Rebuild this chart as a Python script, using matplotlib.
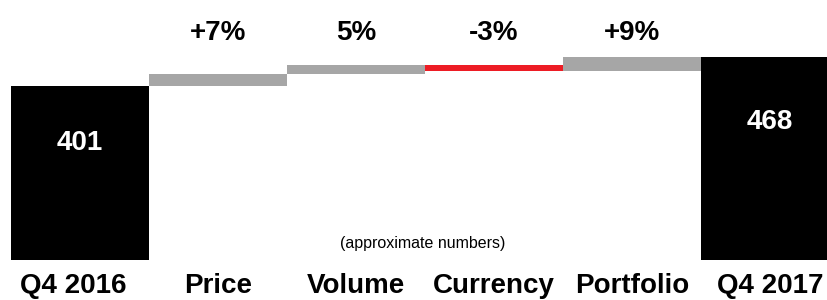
import matplotlib
matplotlib.use('Agg')
import matplotlib.pyplot as plt

categories = ['Q4 2016', 'Price', 'Volume', 'Currency', 'Portfolio', 'Q4 2017']
start_value = 401
end_value = 468
changes = [28, 20, -12, 31]
change_labels = ['+7%', '5%', '-3%', '+9%']

plt.rcParams['font.family'] = ['Liberation Sans', 'DejaVu Sans']

fig = plt.figure(figsize=(8.27, 3.0), dpi=100)
ax = fig.add_axes([0, 0.1333, 1, 0.8667])

gray = '#a6a6a6'
red = '#ed1c24'

# totals
ax.bar(0, start_value, width=1, color='black')
ax.bar(len(categories) - 1, end_value, width=1, color='black')

# floating steps
level = start_value
for i, ch in enumerate(changes):
    x = i + 1
    col = red if ch < 0 else gray
    ax.bar(x, abs(ch), bottom=min(level, level + ch), width=1, color=col)
    level += ch

for i, lab in enumerate(change_labels):
    ax.text(i + 1, 524, lab, ha='center', va='center', fontsize=20,
            fontweight='bold')

ax.text(0, start_value - 132, str(start_value), ha='center', va='center',
        color='white', fontsize=20, fontweight='bold')
ax.text(len(categories) - 1, end_value - 150, str(end_value), ha='center',
        va='center', color='white', fontsize=20, fontweight='bold')

ax.text(2.485, 39, '(approximate numbers)', ha='center', va='center',
        fontsize=11.5)

for i, c in enumerate(categories):
    dx = -0.05 if i == 0 else 0
    ax.text(i + dx, -60, c, ha='center', va='center', fontsize=20,
            fontweight='bold', clip_on=False)

ax.set_xlim(-0.58, 5.413)
ax.set_ylim(0, 600)
ax.axis('off')

fig.savefig('out.png', dpi=100)
